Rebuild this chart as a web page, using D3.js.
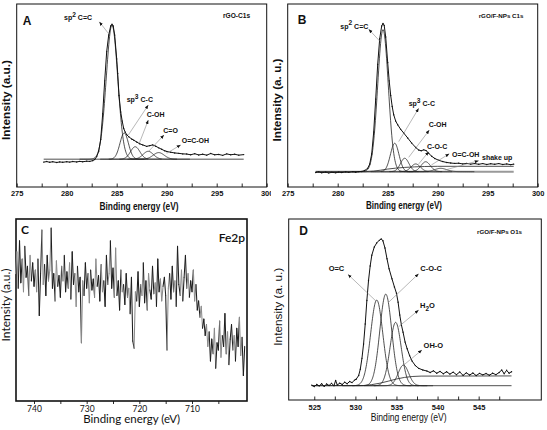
<!DOCTYPE html>
<html><head><meta charset="utf-8">
<script src="https://cdn.jsdelivr.net/npm/d3@7"></script>
<style>body{margin:0;background:#fff}svg{display:block}</style>
</head><body>
<svg id="chart" width="547" height="430"></svg>
<script>
// ---------------- DATA ----------------
// Panel A: rGO C1s  (binding energy eV, intensity a.u.)
const aRaw = [[277.7,13.6],[278.0,13.9],[278.3,13.5],[278.6,13.8],[279.0,13.4],[279.3,13.7],[279.6,13.5],[280.0,13.8],[280.3,13.6],[280.6,13.9],[281.0,13.7],[281.3,14.0],[281.6,13.8],[282.0,14.1],[282.3,14.0],[282.6,14.4],[282.8,15.0],[283.0,16.6],[283.2,19.5],[283.4,26],[283.6,40],[283.8,58],[284.0,74],[284.2,83],[284.4,88],[284.53,89],[284.65,88],[284.8,83],[285.0,70],[285.1,62],[285.23,50],[285.4,41],[285.55,36],[285.7,32],[285.85,30],[286.0,28.6],[286.2,27.5],[286.5,26.2],[286.7,25.6],[287.0,24.6],[287.3,23.6],[287.6,23.0],[288.0,22.2],[288.3,22.6],[288.6,23.0],[288.9,22.3],[289.2,21.4],[289.5,20.6],[289.8,19.8],[290.0,19.4],[290.4,19.0],[290.8,18.6],[291.2,18.4],[291.6,18.1],[292.0,18.0],[292.4,17.6],[292.8,18.2],[293.2,17.5],[293.6,17.9],[294.0,17.4],[294.4,18.3],[294.8,17.6],[295.2,17.8],[295.6,17.3],[296.0,18.1],[296.4,17.6],[296.8,17.9],[297.2,17.4],[297.7,17.7]];
const aBackground = [[277.7,15.2],[297.7,15.2]];
const aPeakCenter = [284.53,285.75,286.85,288.15,289.2];
const aPeakTop    = [88.5,29.5,22.0,19.5,18.8];
const aPeakFwhm   = [1.35,1.0,1.1,1.2,1.3];
const aLabelText  = ["sp^2 C=C","sp^3 C-C","C-OH","C=O","O=C-OH"];
const aLabelPos   = [[279.73,91.3],[286.0,46.6],[288.0,38.1],[289.66,29.3],[291.5,23.9]];
const aArrowFrom  = [[283.26,90.3],[288.16,44.8],[288.16,36.6],[289.73,28.4],[291.4,23.0]];
const aArrowTo    = [[284.16,84.0],[286.16,28.4],[287.26,23.9],[288.16,19.3],[290.0,18.4]];

// Panel B: rGO/F-NPs C1s
const bRaw = [[277.8,7.9],[278.1,8.2],[278.4,7.8],[278.8,8.1],[279.1,7.7],[279.4,8.0],[279.8,7.8],[280.1,8.1],[280.4,7.9],[280.8,8.2],[281.1,8.0],[281.5,8.3],[281.8,8.1],[282.1,8.4],[282.4,8.5],[282.7,9.0],[283.0,10.2],[283.2,12.5],[283.4,18],[283.6,30],[283.8,48],[284.0,67],[284.2,81],[284.4,88],[284.53,89.4],[284.65,88.3],[284.8,82],[285.0,68],[285.15,58],[285.3,50],[285.45,44],[285.6,39.5],[285.8,36],[286.0,34],[286.3,31.5],[286.6,29.5],[287.0,26.8],[287.4,24.0],[287.8,21.6],[288.1,20.2],[288.35,19.8],[288.6,20.3],[288.85,19.9],[289.1,18.4],[289.4,16.8],[289.7,15.6],[290.1,14.6],[290.5,13.9],[290.9,13.4],[291.3,13.1],[291.7,12.9],[292.1,13.0],[292.5,12.6],[292.9,12.9],[293.3,12.5],[293.7,12.8],[294.1,12.4],[294.5,12.8],[294.9,12.3],[295.3,12.7],[295.7,12.4],[296.1,12.8],[296.5,12.3],[296.9,12.6],[297.3,12.2],[297.6,12.5]];
const bBackground = [[277.8,8.4],[282.8,8.4],[283.6,8.7],[284.3,9.2],[285.0,9.8],[285.8,10.3],[286.7,10.7],[287.7,11.0],[288.7,11.2],[290.0,11.3],[297.6,11.3]];
const bBaseline = [[277.8,8.4],[297.6,8.4]];
const bPeakCenter = [284.53,285.7,286.7,287.8,288.8,290.3];
const bPeakTop    = [86,23.9,15.7,12.6,13.8,10.2];
const bPeakFwhm   = [1.25,1.0,1.0,1.1,1.1,1.4];
const bLabelText  = ["sp^2 C=C","sp^3 C-C","C-OH","C-O-C","O=C-OH","shake up"];
const bLabelPos   = [[280.26,86.6],[287.1,44.3],[289.1,32.8],[288.93,21.0],[291.43,16.2],[294.43,14.9]];
const bArrowFrom  = [[283.1,86.2],[288.1,43.0],[289.16,31.1],[289.1,19.3],[291.16,18.2],[294.1,14.4]];
const bArrowTo    = [[284.26,79.4],[286.1,24.8],[287.1,16.2],[288.1,12.6],[289.36,12.0],[290.76,9.3]];

// Panel C: Fe2p, one point every 0.25 eV starting at 743.5 eV
const cStart = 743.5, cStep = 0.25;
const cIntensity = [70,82,62,88,65,78,60,85,68,74,58,80,66,76,63,
 72,60,78,47,70,94,64,75,58,80,66,72,95,62,70,55,77,63,69,57,74,66,80,60,71,
 62,76,56,82,64,70,52,74,60,68,32,66,58,76,62,70,54,72,61,67,57,78,63,69,55,75,60,66,52,80,64,70,
 88,62,73,57,84,
 58,66,50,72,60,64,53,70,57,62,48,68,33,29,60,55,71,52,64,58,76,54,66,50,70,61,56,74,59,65,52,78,60,67,55,63,68,58,
 28,62,70,56,74,60,66,52,85,64,58,72,55,68,80,62,70,57,66,60,72,55,64,50,
 55,46,52,40,45,36,
 42,30,38,22,34,26,40,18,32,28,44,24,36,30,48,26,38,20,34,42,28,36,22,40,30,46,25,35,14,30];

// Panel D: rGO/F-NPs O1s
const dRaw = [[524.7,8.2],[525.0,7.4],[525.3,8.6],[525.6,7.8],[525.9,9.0],[526.2,7.5],[526.5,8.8],[526.8,8.0],[527.1,9.2],[527.4,7.9],[527.6,10.8],[527.8,8.3],[528.1,9.3],[528.4,8.6],[528.7,9.8],[529.0,9.0],[529.3,10.2],[529.6,9.6],[529.9,11.0],[530.1,11.5],[530.4,13.5],[530.6,17],[530.8,23],[531.0,31],[531.2,42],[531.4,55],[531.6,66],[531.8,74],[532.0,80],[532.3,84.5],[532.6,86.8],[532.9,88.2],[533.15,89],[533.35,88],[533.6,84],[533.85,78],[534.1,72.5],[534.45,67],[534.75,62.5],[535.0,59],[535.2,54],[535.4,47],[535.6,41.5],[535.8,37.5],[536.05,32],[536.3,28.3],[536.6,24.5],[536.9,21.5],[537.3,19],[537.7,17.5],[538.2,16.6],[538.7,16.0],[539.1,15.2],[539.5,16.1],[539.9,14.8],[540.3,15.8],[540.7,14.5],[541.1,15.6],[541.5,14.3],[541.9,15.4],[542.3,14.0],[542.7,15.5],[543.1,13.6],[543.5,15.0],[543.9,13.8],[544.3,14.9],[544.7,13.5],[545.1,14.7],[545.5,13.9],[545.9,14.6],[546.3,13.7],[546.7,14.8],[547.1,14.0],[547.5,15.2],[547.8,16.6],[548.1,14.5],[548.4,16.4],[548.7,14.8],[549.0,15.6]];
const dBackground = [[524.7,7.9],[531.0,8.0],[532.0,8.5],[533.0,9.3],[534.0,10.4],[535.0,11.6],[536.0,12.5],[537.0,13.0],[538.0,13.2],[549.0,13.3]];
const dBaseline = [[524.7,7.9],[549.0,7.9]];
const dPeakCenter = [532.6,533.7,534.9,535.85];
const dPeakTop    = [55.2,58.5,42.9,19.3];
const dPeakFwhm   = [1.75,1.7,1.6,1.5];
const dLabelText  = ["O=C","C-O-C","H_2O","OH-O"];
const dLabelPos   = [[526.75,71.3],[537.9,71.0],[537.86,50.6],[538.3,28.5]];
const dArrowFrom  = [[529.1,69.4],[537.7,69.8],[537.7,49.7],[538.1,27.6]];
const dArrowTo    = [[532.5,54.7],[534.05,54.0],[535.27,40.5],[535.88,19.3]];

// Ticks
const abTicks = [275,277.5,280,282.5,285,287.5,290,292.5,295,297.5,300];
const abTickLabels = [275,280,285,290,295,300];
const cTicks = [740,735,730,725,720,715,710,705];
const cTickLabels = [740,730,720,710];
const dTicks = [525,527.5,530,532.5,535,537.5,540,542.5,545,547.5];
const dTickLabels = [525,530,535,540,545];

// ---------------- DRAW ----------------
const ARIAL = "'Liberation Sans', Arial, sans-serif";
const CAL = "Lato, 'Open Sans', sans-serif";
const svg = d3.select("#chart");
const defs = svg.append("defs");
defs.append("marker").attr("id","ah").attr("viewBox","0 0 10 10").attr("refX",10).attr("refY",5)
  .attr("markerUnits","userSpaceOnUse").attr("markerWidth",4).attr("markerHeight",4)
  .attr("orient","auto-start-reverse")
  .append("path").attr("d","M0,1 L10,5 L0,9 z").attr("fill","#111");
defs.append("clipPath").attr("id","clipA").append("rect").attr("x",0).attr("y",0).attr("width",271).attr("height",214);

function rich(t, str, size){
  const parts = str.split(/([\^_]\d)/);
  let shift = 0;
  parts.forEach(p => {
    if (!p) return;
    if (p[0] === "^") {
      const s = -0.45*size; t.append("tspan").attr("dy", s - shift).attr("font-size", size*0.95).text(p[1]); shift = s;
    } else if (p[0] === "_") {
      const s = 0.3*size; t.append("tspan").attr("dy", s - shift).attr("font-size", size*0.85).text(p[1]); shift = s;
    } else {
      t.append("tspan").attr("dy", -shift).text(p); shift = 0;
    }
  });
}

function panel(cfg){
  const g = svg.append("g");
  if (cfg.clip) g.attr("clip-path", `url(#${cfg.clip})`);
  const x = d3.scaleLinear().domain(cfg.xDomain).range([cfg.left, cfg.right]);
  const y = d3.scaleLinear().domain([0,100]).range([cfg.bottom, cfg.top]);
  const line = d3.line().x(d => x(d[0])).y(d => y(d[1]));

  // axis ticks
  const ax = g.append("g").attr("transform", `translate(0,${cfg.bottom})`)
    .call(d3.axisBottom(x).tickValues(cfg.ticks).tickSizeInner(cfg.tickSize).tickSizeOuter(0)
      .tickPadding(cfg.tickPad).tickFormat(d => cfg.tickLabels.includes(d) ? d3.format("d")(d) : ""));
  ax.select(".domain").remove();
  ax.selectAll(".tick line").attr("stroke", "#111").attr("stroke-width", 0.9);
  ax.selectAll(".tick text").attr("font-family", cfg.tickFont).attr("font-size", cfg.tickFontSize)
    .attr("font-weight", cfg.tickWeight).attr("fill", "#111");

  // frame
  g.append("rect").attr("x", cfg.left).attr("y", cfg.top)
    .attr("width", cfg.right - cfg.left).attr("height", cfg.bottom - cfg.top)
    .attr("fill","none").attr("stroke", "#111").attr("stroke-width", cfg.frameWidth);

  // axis titles
  g.append("text").attr("x", cfg.xTitle[0]).attr("y", cfg.xTitle[1]).attr("text-anchor","middle")
    .attr("font-family", cfg.titleFont).attr("font-size", cfg.titleSize).attr("font-weight", cfg.titleWeight)
    .attr("textLength", cfg.xTitle[2]).attr("lengthAdjust","spacingAndGlyphs").attr("fill","#111")
    .text("Binding energy (eV)");
  g.append("text").attr("transform", `translate(${cfg.yTitle[0]},${cfg.yTitle[1]}) rotate(-90)`)
    .attr("text-anchor","middle").attr("font-family", cfg.titleFont).attr("font-size", cfg.titleSize)
    .attr("font-weight", cfg.titleWeight).attr("textLength", cfg.yTitle[2]).attr("lengthAdjust","spacingAndGlyphs")
    .attr("fill","#111").text(cfg.yTitleText);

  // panel letter and caption
  g.append("text").attr("x", cfg.letter[0]).attr("y", cfg.letter[1]).attr("text-anchor","middle")
    .attr("font-family", cfg.letterFont).attr("font-size", 12).attr("font-weight","bold").attr("fill","#111").text(cfg.letterText);
  g.append("text").attr("x", cfg.caption[0]).attr("y", cfg.caption[1]).attr("text-anchor", cfg.captionAnchor || "start")
    .attr("font-family", cfg.captionFont).attr("font-size", cfg.captionSize).attr("font-weight", cfg.captionWeight)
    .attr("fill","#111").text(cfg.captionText);

  // series
  (cfg.flatLines || []).forEach(fl => {
    g.append("path").attr("d", line(fl.data)).attr("fill","none").attr("stroke", fl.color).attr("stroke-width", fl.width);
  });
  if (cfg.peaks) {
    const p = cfg.peaks;
    p.center.forEach((c, i) => {
      const w = p.fwhm[i], top = p.top[i];
      const pts = d3.range(c - 2.4*w, c + 2.4*w + 1e-9, 0.04)
        .map(e => [e, p.base + (top - p.base) * Math.exp(-4*Math.LN2*((e - c)/w)**2)]);
      g.append("path").attr("d", line(pts)).attr("fill","none").attr("stroke","#222").attr("stroke-width",0.8);
    });
  }
  if (cfg.twoTone) {
    // spectrum drawn as short segments in alternating grey / black runs, as in the scan image
    const segs = d3.pairs(cfg.raw);
    g.append("g").selectAll("line").data(segs).join("line")
      .attr("x1", d => x(d[0][0])).attr("y1", d => y(d[0][1]))
      .attr("x2", d => x(d[1][0])).attr("y2", d => y(d[1][1]))
      .attr("stroke", (d, i) => (i % 5 < 2) ? "#8c8c8c" : "#1e1e1e")
      .attr("stroke-width", 1.05).attr("stroke-linecap","round");
  } else {
    g.append("path").attr("d", line(cfg.raw)).attr("fill","none").attr("stroke", cfg.rawColor || "#111")
      .attr("stroke-width", cfg.rawWidth || 1).attr("stroke-linejoin","round");
  }
  if (cfg.rawDots) {
    g.append("g").selectAll("circle").data(cfg.raw).join("circle")
      .attr("cx", d => x(d[0])).attr("cy", d => y(d[1])).attr("r", 0.7).attr("fill","#111");
  }

  // annotations
  (cfg.labels || []).forEach((txt, i) => {
    const f = cfg.arrowFrom[i], t = cfg.arrowTo[i];
    g.append("line").attr("x1", x(f[0])).attr("y1", y(f[1])).attr("x2", x(t[0])).attr("y2", y(t[1]))
      .attr("stroke","#888").attr("stroke-width",0.6).attr("marker-start","url(#ah)");
    const tx = g.append("text").attr("x", x(cfg.labelPos[i][0])).attr("y", y(cfg.labelPos[i][1]))
      .attr("font-family", ARIAL).attr("font-size", cfg.labelSize).attr("font-weight","bold").attr("fill","#111");
    rich(tx, txt, cfg.labelSize);
  });
}

// Panel A
panel({
  clip: "clipA", left: 16.7, right: 266.7, top: 4, bottom: 187, xDomain: [275, 300],
  ticks: abTicks, tickLabels: abTickLabels, tickSize: -3.5, tickPad: 3.5, tickFont: ARIAL, tickFontSize: 7.5, tickWeight: "bold",
  frameWidth: 1, titleFont: ARIAL, titleSize: 10.5, titleWeight: "bold",
  xTitle: [139, 210, 79], yTitle: [10, 100, 80], yTitleText: "Intensity (a.u.)",
  letter: [27, 25], letterText: "A", letterFont: ARIAL,
  caption: [223, 17.5], captionText: "rGO-C1s", captionFont: ARIAL, captionSize: 6.6, captionWeight: "bold",
  flatLines: [{data: aBackground, color: "#222", width: 0.8}],
  peaks: {center: aPeakCenter, top: aPeakTop, fwhm: aPeakFwhm, base: 15.2},
  raw: aRaw, rawDots: true,
  labels: aLabelText, labelPos: aLabelPos, arrowFrom: aArrowFrom, arrowTo: aArrowTo, labelSize: 7
});

// Panel B
panel({
  left: 287.7, right: 537.7, top: 4, bottom: 187, xDomain: [275, 300],
  ticks: abTicks, tickLabels: abTickLabels, tickSize: -3.5, tickPad: 3.5, tickFont: ARIAL, tickFontSize: 7.5, tickWeight: "bold",
  frameWidth: 1, titleFont: ARIAL, titleSize: 10.5, titleWeight: "bold",
  xTitle: [404, 209, 76], yTitle: [280.5, 100, 83], yTitleText: "Intensity (a. u.)",
  letter: [302, 24], letterText: "B", letterFont: ARIAL,
  caption: [478.7, 17.5], captionText: "rGO/F-NPs C1s", captionFont: ARIAL, captionSize: 6.2, captionWeight: "bold",
  flatLines: [{data: bBaseline, color: "#999", width: 2}, {data: bBackground, color: "#222", width: 0.8}],
  peaks: {center: bPeakCenter, top: bPeakTop, fwhm: bPeakFwhm, base: 8.4},
  raw: bRaw, rawDots: true,
  labels: bLabelText, labelPos: bLabelPos, arrowFrom: bArrowFrom, arrowTo: bArrowTo, labelSize: 7
});

// Panel C
const cRaw = cIntensity.map((v, i) => [cStart - i*cStep, v]);
panel({
  left: 16, right: 247, top: 219, bottom: 401, xDomain: [743.42, 699.56],
  ticks: cTicks, tickLabels: cTickLabels, tickSize: 3, tickPad: 1.5, tickFont: CAL, tickFontSize: 8.5, tickWeight: "normal",
  frameWidth: 1.6, titleFont: CAL, titleSize: 10.5, titleWeight: "normal",
  xTitle: [131.7, 423, 97], yTitle: [10, 305, 73], yTitleText: "Intensity (a.u.)",
  letter: [25, 234], letterText: "C", letterFont: CAL,
  caption: [245, 241.5], captionAnchor: "end", captionText: "Fe2p", captionFont: CAL, captionSize: 12, captionWeight: 600,
  raw: cRaw, twoTone: true
});

// Panel D
panel({
  left: 288.7, right: 541.3, top: 219, bottom: 400, xDomain: [521.89, 552.62],
  ticks: dTicks, tickLabels: dTickLabels, tickSize: -3.5, tickPad: 5, tickFont: ARIAL, tickFontSize: 7.5, tickWeight: "bold",
  frameWidth: 1, titleFont: ARIAL, titleSize: 10.5, titleWeight: "normal",
  xTitle: [408.7, 421, 76], yTitle: [281.5, 306.7, 78], yTitleText: "Intensity (a. u.)",
  letter: [303.7, 235], letterText: "D", letterFont: ARIAL,
  caption: [477, 233.5], captionText: "rGO/F-NPs O1s", captionFont: ARIAL, captionSize: 6.2, captionWeight: "bold",
  flatLines: [{data: dBaseline, color: "#222", width: 0.8}, {data: dBackground, color: "#222", width: 0.8}],
  peaks: {center: dPeakCenter, top: dPeakTop, fwhm: dPeakFwhm, base: 7.9},
  raw: dRaw, rawDots: true,
  labels: dLabelText, labelPos: dLabelPos, arrowFrom: dArrowFrom, arrowTo: dArrowTo, labelSize: 7.5
});
</script>
</body></html>
